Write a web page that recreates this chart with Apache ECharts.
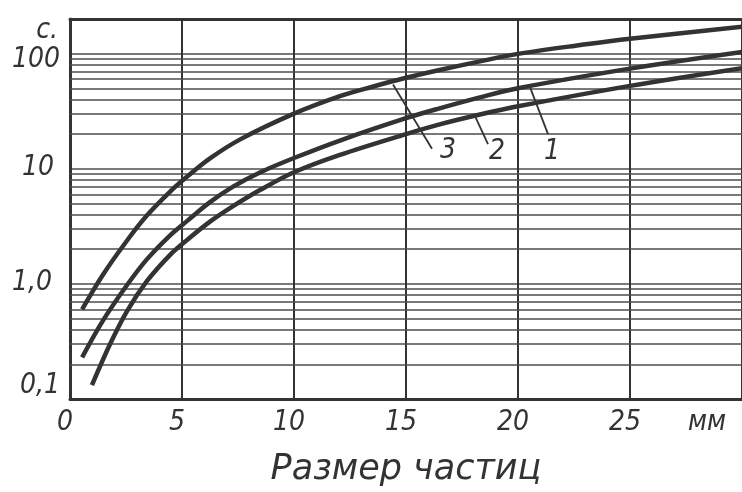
<!DOCTYPE html>
<html>
<head>
<meta charset="utf-8">
<script src="https://cdn.jsdelivr.net/npm/echarts@6/dist/echarts.min.js"></script>
<style>html,body{margin:0;padding:0;background:#fff;}#c{width:742px;height:492px;}</style>
</head>
<body>
<div id="c"></div>
<script>
// ---- data ----
const xTickValues = [0, 5, 10, 15, 20, 25];
const xUnitLabel = 'мм';
const xAxisTitle = 'Размер частиц';
const yUnitLabel = 'с.';
const yTickValues = [0.1, 1, 10, 100];
const yTickLabels = ['0,1', '1,0', '10', '100'];
const minorGridValues = [0.2, 0.3, 0.4, 0.5, 0.6, 0.7, 0.8, 0.9, 2, 3, 4, 5, 6, 7, 8, 9, 20, 30, 40, 50, 60, 70, 80, 90];

// curve "3" (upper)
const curve3X = [0.54, 1.47, 2.54, 3.44, 4.46, 5.22, 6.25, 7.6, 10, 12.05, 13.5, 15, 16.5, 18.3, 20, 22.8, 25, 30];
const curve3Y = [0.60, 1.20, 2.37, 3.94, 6.31, 8.51, 12.3, 18.0, 30.1, 42.7, 51.6, 61.7, 72.1, 85.7, 99.5, 119, 135, 171];
// curve "1" (middle)
const curve1X = [0.54, 1.47, 2.54, 3.44, 4.46, 5.22, 6.25, 7.28, 8.48, 10, 12.05, 15, 16.5, 18.3, 20, 25, 30];
const curve1Y = [0.230, 0.480, 0.973, 1.64, 2.63, 3.51, 5.13, 7.00, 9.29, 12.4, 17.6, 27.5, 33.5, 41.7, 50.1, 74.1, 103.5];
// curve "2" (lower)
const curve2X = [0.98, 1.79, 2.54, 3.44, 4.46, 5.22, 6.25, 7.28, 8.48, 10, 12.05, 15, 16.5, 18.3, 20, 25, 30];
const curve2Y = [0.132, 0.300, 0.578, 1.06, 1.78, 2.40, 3.47, 4.73, 6.53, 9.33, 13.2, 20.0, 24.3, 29.6, 34.9, 52.5, 74.8];

// curve labels and leader lines (data space)
const curveNames = ['3', '2', '1'];
const labelX = [16.875, 19.06, 21.52];
const labelY = [14.3, 14.0, 14.0];
const leaderFromX = [14.42, 18.08, 20.54];
const leaderFromY = [54, 28.6, 50.9];
const leaderToX = [16.16, 18.66, 21.34];
const leaderToY = [14.9, 16.4, 20];

// ---- chart ----
const FONT = "'DejaVu Sans Condensed', 'Liberation Sans Narrow', 'DejaVu Sans', sans-serif";
const INK = '#333';
const GRIDC = '#4d4d4d';
const zip = (xs, ys) => xs.map((x, i) => [x, ys[i]]);

const markLineData = minorGridValues.map(v => ({ yAxis: v, lineStyle: { color: GRIDC, width: 1.7, type: 'solid' } }));
for (let i = 0; i < curveNames.length; i++) {
  markLineData.push([
    { coord: [leaderFromX[i], leaderFromY[i]], lineStyle: { color: INK, width: 1.8, type: 'solid' } },
    { coord: [leaderToX[i], leaderToY[i]] }
  ]);
}

const yRich = {
  a: { fontFamily: FONT, fontStyle: 'italic', fontSize: 28, color: INK, padding: [0, 2, 26, 0] },
  b: { fontFamily: FONT, fontStyle: 'italic', fontSize: 28, color: INK, padding: [0, 10, 2, 0] },
  c: { fontFamily: FONT, fontStyle: 'italic', fontSize: 28, color: INK, padding: [0, 8, 2, 0] },
  d: { fontFamily: FONT, fontStyle: 'italic', fontSize: 28, color: INK, padding: [12, 2, 0, 0] }
};
const yStyleKeys = ['a', 'b', 'c', 'd'];

const lineSeries = (name, xs, ys) => ({
  name, type: 'line', smooth: 0.35, symbol: 'none', data: zip(xs, ys),
  lineStyle: { color: INK, width: 4.5 }, z: 5
});

const chart = echarts.init(document.getElementById('c'), null, { renderer: 'canvas' });
chart.setOption({
  animation: false,
  backgroundColor: '#fff',
  grid: { left: 70, right: 0, top: 19, bottom: 90, containLabel: false },
  xAxis: [{
    type: 'value', min: 0, max: 30, interval: 5,
    name: xAxisTitle, nameLocation: 'middle', nameGap: 53,
    nameTextStyle: { fontFamily: "'DejaVu Sans', sans-serif", fontStyle: 'italic', fontSize: 35, color: INK },
    axisLine: { show: true, lineStyle: { color: INK, width: 3 } },
    axisTick: { show: false },
    axisLabel: {
      showMaxLabel: true, margin: 10,
      fontFamily: FONT, fontStyle: 'italic', fontSize: 28, color: INK, padding: [0, 10, 0, 0],
      formatter: v => {
        if (Math.abs(v - 30) < 1e-6) return '{u|' + xUnitLabel + '}';
        return xTickValues.indexOf(v) >= 0 ? String(v) : '';
      },
      rich: { u: { fontFamily: FONT, fontStyle: 'italic', fontSize: 28, color: INK, padding: [0, 60, 0, 0] } }
    },
    splitLine: { show: true, lineStyle: { color: INK, width: 2 } }
  }, {
    type: 'value', min: 0, max: 30, position: 'top',
    axisLine: { show: true, onZero: false, lineStyle: { color: INK, width: 3 } },
    axisTick: { show: false }, axisLabel: { show: false }, splitLine: { show: false }
  }],
  yAxis: {
    type: 'log', logBase: 10, min: 0.1, max: 200,
    name: yUnitLabel, nameLocation: 'end', nameGap: -26,
    nameTextStyle: { fontFamily: FONT, fontStyle: 'italic', fontSize: 28, color: INK, align: 'right', padding: [0, 12, 0, 0] },
    axisLine: { show: true, lineStyle: { color: INK, width: 3 } },
    axisTick: { show: false },
    axisLabel: {
      margin: 8,
      formatter: v => {
        const e = Math.log10(v);
        for (let i = 0; i < yTickValues.length; i++) {
          if (Math.abs(Math.log10(yTickValues[i]) - e) < 1e-6) return '{' + yStyleKeys[i] + '|' + yTickLabels[i] + '}';
        }
        return '';
      },
      rich: yRich
    },
    splitLine: { show: true, lineStyle: { color: GRIDC, width: 1.7 } }
  },
  series: [
    lineSeries('3', curve3X, curve3Y),
    lineSeries('1', curve1X, curve1Y),
    lineSeries('2', curve2X, curve2Y),
    {
      name: 'labels', type: 'scatter', symbolSize: 0, z: 6,
      data: curveNames.map((n, i) => [labelX[i], labelY[i], n]),
      itemStyle: { opacity: 1 },
      label: {
        show: true, position: 'inside', formatter: p => p.value[2],
        fontFamily: FONT, fontStyle: 'italic', fontSize: 28, color: INK,
        opacity: 1, textBorderWidth: 0
      },
      markLine: { silent: true, symbol: 'none', label: { show: false }, data: markLineData, z: 1 }
    }
  ]
});
</script>
</body>
</html>
